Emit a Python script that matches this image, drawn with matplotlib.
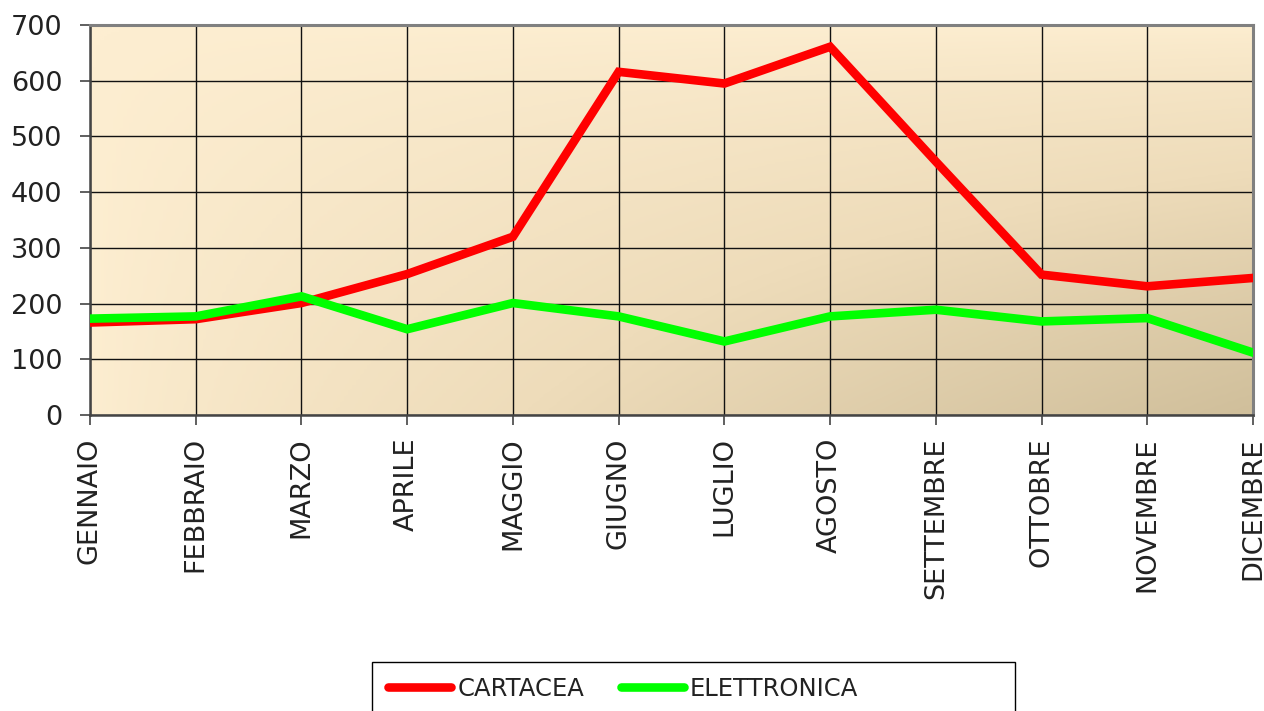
import numpy as np
import matplotlib
matplotlib.use('Agg')
import matplotlib.pyplot as plt
from matplotlib.colors import LinearSegmentedColormap
from matplotlib.patches import Rectangle

# months and monthly values
mesi = ["GENNAIO", "FEBBRAIO", "MARZO", "APRILE", "MAGGIO", "GIUGNO",
        "LUGLIO", "AGOSTO", "SETTEMBRE", "OTTOBRE", "NOVEMBRE", "DICEMBRE"]
cartacea = [166, 172, 201, 253, 320, 616, 595, 661, 455, 252, 231, 246]
elettronica = [173, 177, 213, 154, 201, 177, 132, 177, 189, 168, 174, 112]
y_ticks = [0, 100, 200, 300, 400, 500, 600, 700]

W, H = 1264, 711
fig = plt.figure(figsize=(W / 100, H / 100), dpi=100)
ax = fig.add_axes([0.0712, 0.4163, 0.9201, 0.5485])

# background gradient: light cream top/left, tan towards bottom right
gx, gy = np.meshgrid(np.linspace(0, 1, 300), np.linspace(1, 0, 200))
t = (gx * (1 - gy)) ** 0.7
cmap = LinearSegmentedColormap.from_list("bg", ["#FDEED1", "#EEDCBA", "#D0BF9B"])
ax.imshow(t, cmap=cmap, extent=[0, 1, 0, 1], transform=ax.transAxes,
          aspect='auto', zorder=0, interpolation='bilinear')

x = np.arange(len(mesi))
ax.plot(x, cartacea, color='#FF0000', lw=6.2, label='CARTACEA', zorder=3,
        solid_joinstyle='miter')
ax.plot(x, elettronica, color='#00FF00', lw=6.2, label='ELETTRONICA', zorder=4,
        solid_joinstyle='miter')

ax.set_xlim(0, len(mesi) - 1)
ax.set_ylim(0, 700)
ax.set_yticks(y_ticks)
ax.set_xticks(x)
ax.set_xticklabels(mesi, rotation=90, fontsize=19.5, color='#222222')
for lab in ax.get_yticklabels():
    lab.set_fontsize(19.5)
    lab.set_color('#222222')

ax.grid(True, color='#111111', lw=1.0, zorder=1)
for ln in ax.get_xgridlines() + ax.get_ygridlines():
    ln.set_zorder(1)

ax.tick_params(axis='both', direction='out', length=7, width=1.2,
               color='#444444')
ax.tick_params(axis='y', pad=13)
ax.tick_params(axis='x', pad=9)

for s in ['top', 'right']:
    ax.spines[s].set_color('#808080')
    ax.spines[s].set_linewidth(2.2)
for s in ['left', 'bottom']:
    ax.spines[s].set_color('#444444')
    ax.spines[s].set_linewidth(1.8)

# legend box (wider than its entries, running off the bottom edge)
fig.patches.append(Rectangle((372 / W, -0.05), (1015 - 372) / W, 0.05 + 1 - 662 / H,
                             transform=fig.transFigure, facecolor='white',
                             edgecolor='black', lw=1.0, zorder=0))
leg = fig.legend(loc='upper left', bbox_to_anchor=(388 / W, 1 - 677 / H),
                 ncol=2, fontsize=17.5, frameon=False,
                 handlelength=2.6, handletextpad=0.25,
                 columnspacing=1.5, borderpad=0, borderaxespad=0)
for txt in leg.get_texts():
    txt.set_color('#222222')
for h in leg.get_lines():
    h.set_solid_capstyle('round')

fig.savefig("out.png", dpi=100)
